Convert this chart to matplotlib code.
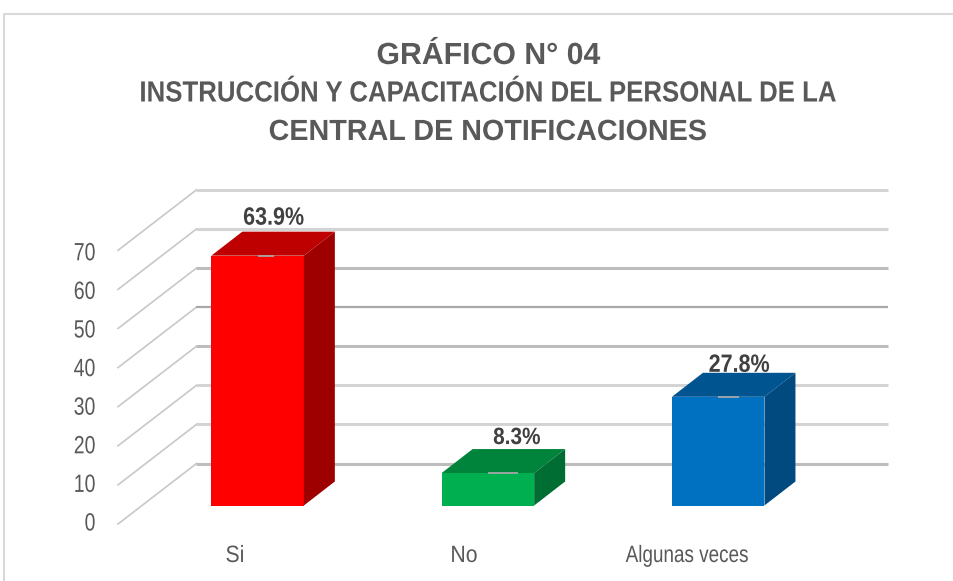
import matplotlib
matplotlib.use('Agg')
import matplotlib.pyplot as plt
from matplotlib.patches import Polygon
from matplotlib.patheffects import AbstractPathEffect
from matplotlib.transforms import Affine2D

# Chart values
categories = ['Si', 'No', 'Algunas veces']
values = [63.9, 8.3, 27.8]
labels = ['63.9%', '8.3%', '27.8%']
ticks = [0, 10, 20, 30, 40, 50, 60, 70]
front_colors = ['#ff0000', '#00b050', '#0070c0']
top_colors = ['#bf0000', '#00843c', '#005490']
side_colors = ['#9e0000', '#006d32', '#004a7f']
grid_colors = ['#bdbdbd', '#d4d4d4', '#d4d4d4', '#bdbdbd', '#a8a8a8', '#bdbdbd', '#d4d4d4', '#d4d4d4']
grid_widths = [2.2, 2.2, 2.2, 2.2, 1.6, 2.2, 2.2, 2.2]
title_lines = ['GRÁFICO N° 04', 'INSTRUCCIÓN Y CAPACITACIÓN DEL PERSONAL DE LA', 'CENTRAL DE NOTIFICACIONES']

W, H = 954, 581
X0, STEP = 257.6, 230.3     # pixel x of first bar centre, pixels per category
Y0, SCALE = 505.5, 3.91     # pixel y of value 0 at the bar base, pixels per unit
BAR_W = 92.5 / STEP
DX, DY = 31 / STEP, 24 / SCALE


class Squeeze(AbstractPathEffect):
    # the reference text is condensed, no narrow font is installed so squeeze the glyph outlines
    def __init__(self, cx, factor):
        super().__init__()
        self.cx = cx
        self.factor = factor

    def draw_path(self, renderer, gc, tpath, affine, rgbFace=None):
        squeeze = Affine2D().translate(-self.cx, 0).scale(self.factor, 1).translate(self.cx, 0)
        renderer.draw_path(gc, tpath, affine + squeeze, rgbFace)


def x_px(px):
    return (px - X0) / STEP


def y_px(py):
    return (Y0 - py) / SCALE


def narrow_text(x, y, s, factor, ha='center', va='baseline', **kwargs):
    cx = ax.transData.transform((x, y))[0]
    t = ax.text(x, y, s, ha=ha, va=va, **kwargs)
    t.set_path_effects([Squeeze(cx, factor)])
    return t


plt.rcParams['font.family'] = ['Liberation Sans', 'DejaVu Sans']

fig = plt.figure(figsize=(W / 100, H / 100), dpi=100)
ax = fig.add_axes([0, 0, 1, 1])
ax.set_xlim(x_px(0), x_px(W))
ax.set_ylim(y_px(H), y_px(0))
ax.axis('off')

# Chart frame
ax.plot([x_px(4.5), x_px(4.5), x_px(W)], [y_px(H), y_px(13.5), y_px(13.5)], color='#d9d9d9', lw=1.5)

# Wall and side gridlines
for v, c, lw in zip(ticks, grid_colors, grid_widths):
    back = v + (Y0 - 463.5) / SCALE
    front = v + (Y0 - 524) / SCALE
    ax.plot([x_px(118), x_px(196.5)], [front, back], color='#c8c8c8', lw=1.2, zorder=1)
    ax.plot([x_px(196.5), x_px(888)], [back, back], color=c, lw=lw, zorder=1, solid_capstyle='butt')
    narrow_text(x_px(95.5), y_px(521) + v * 3.86 / SCALE, str(v), 0.78, ha='right', va='center_baseline',
                fontsize=18, color='#595959')

# Bars
label_dx = [16, 29, 21]
label_dy = [31, 29, 25]
label_size = [18, 17, 18]
label_squeeze = [0.86, 0.88, 0.86]
name_dx = [-22.6, -24, -31]
name_squeeze = [0.9, 0.9, 0.8]
dash_len = [16, 30, 21]
ax.bar(range(len(values)), values, width=BAR_W, color=front_colors, zorder=3)
for i, v in enumerate(values):
    left, right = i - BAR_W / 2, i + BAR_W / 2
    ax.add_patch(Polygon([(left, v), (right, v), (right + DX, v + DY), (left + DX, v + DY)],
                         facecolor=top_colors[i], edgecolor='none', zorder=3))
    ax.add_patch(Polygon([(right, 0), (right + DX, DY), (right + DX, v + DY), (right, v)],
                         facecolor=side_colors[i], edgecolor='none', zorder=3))
    ax.plot([i, i + dash_len[i] / STEP], [v, v], color='#a6a6a6', lw=1.3, zorder=4, solid_capstyle='butt')
    narrow_text(i + label_dx[i] / STEP, v + label_dy[i] / SCALE, labels[i], label_squeeze[i],
                fontsize=label_size[i], fontweight='bold', color='#404040', zorder=5)
    narrow_text(i + name_dx[i] / STEP, y_px(562), categories[i], name_squeeze[i], fontsize=17, color='#595959')

# Title
for text, py, size, factor in zip(title_lines, [64, 101.5, 140], [22, 21, 21], [0.99, 0.885, 0.985]):
    narrow_text(x_px(488), y_px(py), text, factor, fontsize=size, fontweight='bold', color='#595959')

fig.savefig('out.png', dpi=100)
